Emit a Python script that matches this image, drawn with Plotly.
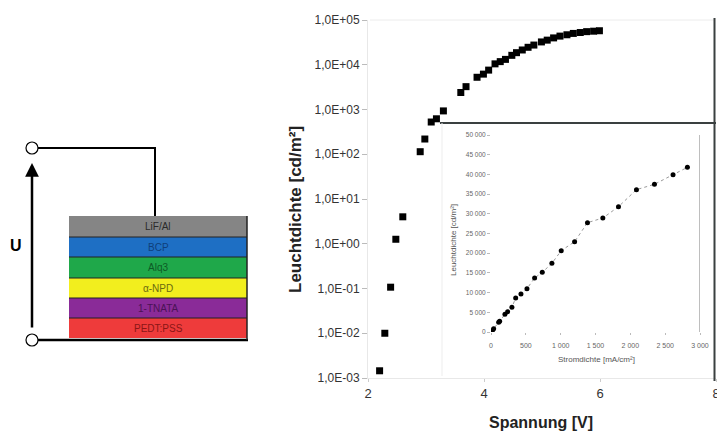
import plotly.graph_objects as go

W, H = 717, 431

# ---------------- data ----------------
voltage = [2.2, 2.29, 2.39, 2.48, 2.6, 2.9, 2.98, 3.09, 3.18, 3.3, 3.6, 3.69,
           3.88, 3.99, 4.08, 4.19, 4.28, 4.37, 4.48, 4.56, 4.66, 4.76, 4.86,
           4.99, 5.09, 5.2, 5.31, 5.43, 5.54, 5.66, 5.77, 5.89, 5.99]
luminance = [1.45e-3, 1.0e-2, 0.107, 1.26, 4.0, 114, 219, 525, 620, 930, 2400, 3240,
             5250, 6170, 7590, 10470, 11750, 13180, 16220, 18620, 21380, 24550, 27540,
             32360, 35480, 39810, 43650, 46770, 50120, 52480, 54950, 56230, 57540]

current_density = [0, 19, 38, 110, 124, 200, 239, 300, 354, 430, 516, 626, 736, 874,
                   1008, 1200, 1385, 1605, 1830, 2088, 2346, 2613, 2819]
inset_lum = [0, 340, 850, 2450, 2700, 4500, 5160, 6260, 8630, 9640, 11000, 13700,
             15140, 17430, 20640, 22930, 27750, 28930, 31800, 36130, 37480, 39930, 41790]

main_y_ticks = [1e-3, 1e-2, 1e-1, 1e0, 1e1, 1e2, 1e3, 1e4, 1e5]
main_y_labels = ["1,0E-03", "1,0E-02", "1,0E-01", "1,0E+00", "1,0E+01",
                 "1,0E+02", "1,0E+03", "1,0E+04", "1,0E+05"]
main_x_ticks = [2, 4, 6, 8]
inset_x_ticks = [0, 500, 1000, 1500, 2000, 2500, 3000]
inset_x_labels = ["0", "500", "1 000", "1 500", "2 000", "2 500", "3 000"]
inset_y_ticks = list(range(0, 50001, 5000))
inset_y_labels = ["0"] + [f"{v // 1000} 000" for v in inset_y_ticks[1:]]

layer_names = ["LiF/Al", "BCP", "Alq3", "α-NPD", "1-TNATA", "PEDT:PSS"]
layer_colors = ["#858585", "#1e6fc4", "#1fa84a", "#f2ee1e", "#8a2b98", "#ee3b3b"]
layer_text_colors = ["#2a2a2a", "#0f3f7a", "#0d5a25", "#6a6a10", "#4a1256", "#8a1616"]


def px(x):
    return x / W


def py(y):
    return 1 - y / H


def label(x, y, text, size, color, angle=0):
    return dict(xref="paper", yref="paper", x=px(x), y=py(y), text=text,
                showarrow=False, xanchor="center", yanchor="middle", textangle=angle,
                font=dict(family="Arial", size=size, color=color))


fig = go.Figure()

fig.add_trace(go.Scatter(
    x=voltage, y=luminance, mode="markers",
    marker=dict(symbol="square", size=7, color="black"),
    xaxis="x", yaxis="y", showlegend=False))

fig.add_trace(go.Scatter(
    x=current_density, y=inset_lum, mode="lines+markers",
    line=dict(color="#9a9a9a", width=1, dash="dot"),
    marker=dict(symbol="circle", size=5, color="black"),
    xaxis="x2", yaxis="y2", showlegend=False))

shapes = []
annotations = []

# ---- left diagram ----
for cy in (148, 340):
    shapes.append(dict(type="circle", xref="paper", yref="paper",
                       x0=px(26), x1=px(38), y0=py(cy + 6), y1=py(cy - 6),
                       line=dict(color="black", width=1.2), fillcolor="white"))
shapes.append(dict(type="line", xref="paper", yref="paper",
                   x0=px(38), x1=px(156), y0=py(148), y1=py(148),
                   line=dict(color="black", width=2)))
shapes.append(dict(type="line", xref="paper", yref="paper",
                   x0=px(155), x1=px(155), y0=py(148), y1=py(216),
                   line=dict(color="black", width=2)))
shapes.append(dict(type="line", xref="paper", yref="paper",
                   x0=px(38), x1=px(248), y0=py(340), y1=py(340),
                   line=dict(color="black", width=2.5)))
bounds = [216, 237, 257, 278, 298, 318, 338]
for i, (name, col, tcol) in enumerate(zip(layer_names, layer_colors, layer_text_colors)):
    y0, y1 = bounds[i], bounds[i + 1]
    shapes.append(dict(type="rect", xref="paper", yref="paper",
                       x0=px(69), x1=px(247), y0=py(y1), y1=py(y0),
                       fillcolor=col, line=dict(width=0)))
    annotations.append(label(158, (y0 + y1) / 2, name, 10, tcol))
for b in bounds[1:-1]:
    shapes.append(dict(type="line", xref="paper", yref="paper",
                       x0=px(69), x1=px(247), y0=py(b), y1=py(b),
                       line=dict(color="#222", width=1.2)))
shapes.append(dict(type="line", xref="paper", yref="paper",
                   x0=px(247), x1=px(247), y0=py(216), y1=py(340),
                   line=dict(color="#222", width=1.5)))

annotations.append(dict(xref="paper", yref="paper", x=px(32), y=py(163),
                        ax=0, ay=166, axref="pixel", ayref="pixel",
                        text="", showarrow=True, arrowhead=2, arrowsize=1.1,
                        arrowwidth=2.5, arrowcolor="black"))
annotations.append(label(16, 246, "<b>U</b>", 16, "black"))

# ---- main plot decorations ----
shapes.append(dict(type="line", xref="paper", yref="paper",
                   x0=px(370), x1=px(714), y0=py(20), y1=py(20),
                   line=dict(color="#ececec", width=1)))
shapes.append(dict(type="line", xref="paper", yref="paper",
                   x0=px(714.5), x1=px(714.5), y0=py(18), y1=py(381),
                   line=dict(color="#3a4040", width=2)))
shapes.append(dict(type="line", xref="paper", yref="paper",
                   x0=px(440), x1=px(716), y0=py(123), y1=py(123),
                   line=dict(color="#3a4040", width=2)))
shapes.append(dict(type="line", xref="paper", yref="paper",
                   x0=px(442), x1=px(442), y0=py(123), y1=py(376),
                   line=dict(color="#ededed", width=1)))
shapes.append(dict(type="line", xref="x2", yref="y2",
                   x0=3000, x1=3000, y0=0, y1=50000,
                   line=dict(color="#a8a8a8", width=1.5)))

annotations.append(label(295, 210, "<b>Leuchtdichte [cd/m²]</b>", 17, "#222", -90))
annotations.append(label(541, 422, "<b>Spannung [V]</b>", 16, "#222"))
annotations.append(label(453, 240, "Leuchtdichte [cd/m²]", 8, "#555", -90))
annotations.append(label(596, 359, "Stromdichte [mA/cm²]", 8, "#555"))

fig.update_layout(
    width=W, height=H,
    margin=dict(l=0, r=0, t=0, b=0, pad=0, autoexpand=False),
    paper_bgcolor="white", plot_bgcolor="rgba(0,0,0,0)",
    showlegend=False,
    xaxis=dict(domain=[px(368), px(716)], range=[2, 8], tickvals=main_x_ticks,
               showgrid=False, zeroline=False, showline=True, linecolor="#e8e8e8",
               ticks="outside", ticklen=3, tickcolor="#cccccc", automargin=False,
               ticklabeloverflow="allow",
               tickfont=dict(family="Arial", size=13, color="#333"),
               anchor="y"),
    yaxis=dict(domain=[py(378), py(20)], type="log", range=[-3, 5],
               tickvals=main_y_ticks, ticktext=main_y_labels,
               showgrid=False, zeroline=False, showline=True, linecolor="#e8e8e8",
               ticks="outside", ticklen=5, tickcolor="#bbbbbb", automargin=False,
               tickfont=dict(family="Arial", size=12, color="#333"),
               anchor="x"),
    xaxis2=dict(domain=[px(491), px(700)], range=[0, 3000], tickvals=inset_x_ticks,
                ticktext=inset_x_labels, showgrid=False, zeroline=False, showline=False,
                ticks="outside", ticklen=2, tickcolor="#bbbbbb", automargin=False,
                tickfont=dict(family="Arial", size=7, color="#666"),
                ticklabelstandoff=5, anchor="y2"),
    yaxis2=dict(domain=[py(332), py(135)], range=[0, 50000], tickvals=inset_y_ticks,
                ticktext=inset_y_labels, showgrid=False, zeroline=False, showline=False,
                ticks="outside", ticklen=3, tickcolor="#bbbbbb", automargin=False,
                tickfont=dict(family="Arial", size=6.5, color="#666"),
                anchor="x2"),
    shapes=shapes,
    annotations=annotations,
)

fig.write_html("out.html", config={"displayModeBar": False},
               post_script="document.body.style.margin='0';document.body.style.overflow='hidden';")
